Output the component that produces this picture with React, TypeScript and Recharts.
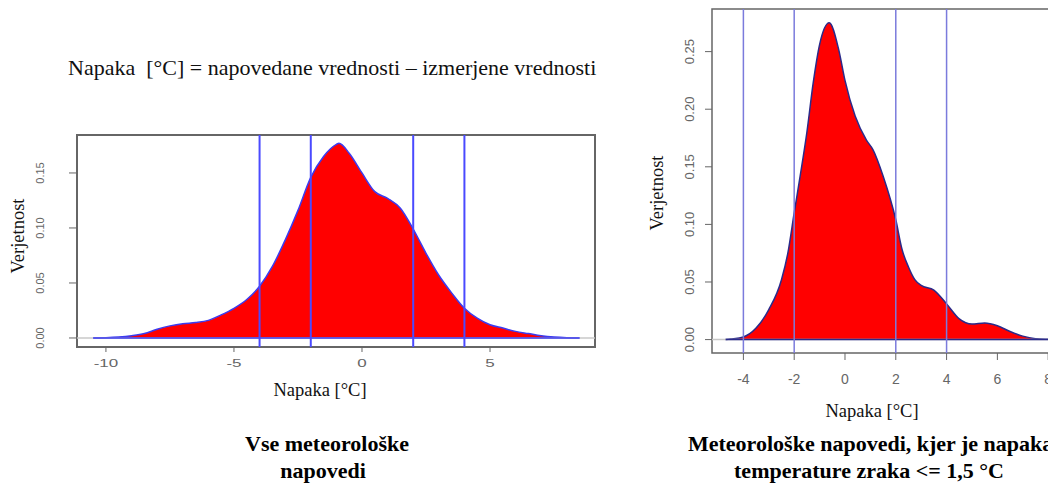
import { AreaChart, Area, XAxis, YAxis, ReferenceLine, ReferenceArea } from "recharts"

// left: all forecasts
const allErrX = [-10.5, -10, -9.5, -9, -8.5, -8, -7.5, -7, -6.5, -6, -5.5, -5, -4.5, -4, -3.5, -3, -2.5, -2, -1.5, -1, -0.9, -0.5, 0, 0.5, 1, 1.5, 2, 2.5, 3, 3.5, 4, 4.5, 5, 5.5, 6, 6.5, 7, 7.5, 8, 8.5]
const allDensity = [0, 0.0002, 0.0008, 0.002, 0.004, 0.008, 0.011, 0.013, 0.014, 0.016, 0.021, 0.027, 0.035, 0.047, 0.065, 0.089, 0.116, 0.146, 0.165, 0.176, 0.177, 0.168, 0.15, 0.133, 0.127, 0.118, 0.099, 0.077, 0.057, 0.041, 0.027, 0.018, 0.012, 0.009, 0.006, 0.004, 0.002, 0.0008, 0.0002, 0]

// right: forecasts with air temperature error <= 1.5 °C
const smallErrX = [-4.7, -4.5, -4, -3.5, -3, -2.5, -2.25, -2, -1.75, -1.5, -1.25, -1, -0.62, -0.25, 0, 0.4, 0.85, 1.1, 1.5, 2, 2.25, 2.5, 2.75, 3, 3.5, 4, 4.5, 5, 5.5, 6, 6.5, 7, 7.5, 8, 8.3]
const smallDensity = [0, 0.0005, 0.0023, 0.01, 0.026, 0.052, 0.075, 0.11, 0.144, 0.18, 0.223, 0.256, 0.275, 0.252, 0.225, 0.194, 0.173, 0.165, 0.142, 0.104, 0.078, 0.063, 0.052, 0.047, 0.043, 0.031, 0.018, 0.0135, 0.0144, 0.012, 0.007, 0.003, 0.0008, 0.0002, 0]

const cutLines = [-4, -2, 2, 4]
const leftXTicks = [-10, -5, 0, 5]
const leftYTicks = [0, 0.05, 0.1, 0.15]
const rightXTicks = [-4, -2, 0, 2, 4, 6, 8]
const rightYTicks = [0, 0.05, 0.1, 0.15, 0.2, 0.25]

const SANS = "'Liberation Sans', Arial, sans-serif"
const SERIF = "'Liberation Serif', 'Times New Roman', serif"

const allData = allErrX.map((x, i) => ({ x, d: allDensity[i] }))
const smallData = smallErrX.map((x, i) => ({ x, d: smallDensity[i] }))

const LeftXTick = ({ x, y, payload }: any) => (
    <g transform={`translate(${x},${y + 15})`}>
        <text textAnchor="middle" transform="scale(1.7,1)" fill="#666" fontSize={10} fontFamily={SANS}>
            {payload.value}
        </text>
    </g>
)

const LeftYTick = ({ x, y, payload }: any) => (
    <text x={x - 25} y={y} transform={`rotate(-90 ${x - 25} ${y})`} textAnchor="middle" fill="#666" fontSize={11} fontFamily={SANS}>
        {Number(payload.value).toFixed(2)}
    </text>
)

const RightXTick = ({ x, y, payload }: any) => (
    <text x={x} y={y + 24} textAnchor="middle" fill="#666" fontSize={14} fontFamily={SANS}>
        {payload.value}
    </text>
)

const RightYTick = ({ x, y, payload }: any) => (
    <text x={x - 11} y={y} transform={`rotate(-90 ${x - 11} ${y})`} textAnchor="middle" fill="#666" fontSize={13} fontFamily={SANS}>
        {Number(payload.value).toFixed(2)}
    </text>
)

export default function App() {
    const lx: [number, number] = [-11.13, 9.1]
    const ly: [number, number] = [-0.0082, 0.1845]
    const rx: [number, number] = [-5.236, 8.82]
    const ry: [number, number] = [-0.01165, 0.287]

    return (
        <div style={{ position: "fixed", left: 0, top: 0, width: 1048, height: 484, overflow: "hidden", background: "#fff" }}>
            <div style={{ position: "absolute", left: 0, top: 0 }}>
                <AreaChart width={620} height={400} data={allData} margin={{ top: 135, right: 25, bottom: 0, left: 0 }}>
                    <XAxis dataKey="x" type="number" domain={lx} allowDataOverflow ticks={leftXTicks}
                        axisLine={false} tickSize={5} tickMargin={0} height={53}
                        tickLine={{ stroke: "#666" }} tick={<LeftXTick />} />
                    <YAxis type="number" domain={ly} allowDataOverflow ticks={leftYTicks}
                        axisLine={false} tickSize={8} tickMargin={0} width={77}
                        tickLine={{ stroke: "#666" }} tick={<LeftYTick />} />
                    <ReferenceLine y={0} stroke="#c8c8c8" strokeWidth={1.5} />
                    <Area dataKey="d" type="monotone" baseValue={0} fill="#ff0000" fillOpacity={1}
                        stroke="#3b3bf0" strokeWidth={1.5} dot={false} activeDot={false} isAnimationActive={false} />
                    <ReferenceLine segment={[{ x: allErrX[0], y: 0 }, { x: allErrX[allErrX.length - 1], y: 0 }]}
                        stroke="#3b3bf0" strokeWidth={1.5} />
                    {cutLines.map((c) => (
                        <ReferenceLine key={c} x={c} stroke="#4a4aff" strokeWidth={2} />
                    ))}
                    <ReferenceArea x1={lx[0]} x2={lx[1]} y1={ly[0]} y2={ly[1]} fill="none"
                        stroke="#666" strokeWidth={2} ifOverflow="visible" />
                </AreaChart>
            </div>

            <div style={{ position: "absolute", left: 640, top: 0 }}>
                <AreaChart width={430} height={400} data={smallData} margin={{ top: 9, right: 1, bottom: 0, left: 0 }}>
                    <XAxis dataKey="x" type="number" domain={rx} allowDataOverflow ticks={rightXTicks}
                        axisLine={false} tickSize={7} tickMargin={0} height={47}
                        tickLine={{ stroke: "#666" }} tick={<RightXTick />} />
                    <YAxis type="number" domain={ry} allowDataOverflow ticks={rightYTicks}
                        axisLine={false} tickSize={7} tickMargin={0} width={72}
                        tickLine={{ stroke: "#666" }} tick={<RightYTick />} />
                    <ReferenceLine y={0} stroke="#c8c8c8" strokeWidth={1.5} />
                    <Area dataKey="d" type="monotone" baseValue={0} fill="#ff0000" fillOpacity={1}
                        stroke="#2a2a8a" strokeWidth={1.5} dot={false} activeDot={false} isAnimationActive={false} />
                    <ReferenceLine segment={[{ x: smallErrX[0], y: 0 }, { x: smallErrX[smallErrX.length - 1], y: 0 }]}
                        stroke="#2a2a8a" strokeWidth={1.5} />
                    {cutLines.map((c) => (
                        <ReferenceLine key={c} x={c} stroke="#7b7bdc" strokeWidth={1.5} />
                    ))}
                    <ReferenceArea x1={rx[0]} x2={rx[1]} y1={ry[0]} y2={ry[1]} fill="none"
                        stroke="#666" strokeWidth={1.5} ifOverflow="visible" />
                </AreaChart>
            </div>

            <svg width={1048} height={484} style={{ position: "absolute", left: 0, top: 0, pointerEvents: "none" }}>
                <text x={68} y={75} fontSize={22} fontFamily={SERIF} fill="#111" style={{ whiteSpace: "pre" }}>
                    {"Napaka  [°C] = napovedane vrednosti – izmerjene vrednosti"}
                </text>

                <text x={24} y={236} transform="rotate(-90 24 236)" textAnchor="middle" fontSize={18.5} fontFamily={SERIF} fill="#111">Verjetnost</text>
                <text x={320} y={396} textAnchor="middle" fontSize={18.5} fontFamily={SERIF} fill="#111">Napaka [°C]</text>

                <text x={663} y={193} transform="rotate(-90 663 193)" textAnchor="middle" fontSize={18.5} fontFamily={SERIF} fill="#111">Verjetnost</text>
                <text x={872} y={417} textAnchor="middle" fontSize={18.5} fontFamily={SERIF} fill="#111">Napaka [°C]</text>

                <text x={327} y={451} textAnchor="middle" fontSize={22} fontWeight="bold" fontFamily={SERIF} fill="#000">Vse meteorološke</text>
                <text x={323} y={478} textAnchor="middle" fontSize={22} fontWeight="bold" fontFamily={SERIF} fill="#000">napovedi</text>

                <text x={688} y={451} fontSize={22} fontWeight="bold" fontFamily={SERIF} fill="#000">Meteorološke napovedi, kjer je napaka</text>
                <text x={869} y={478} textAnchor="middle" fontSize={22} fontWeight="bold" fontFamily={SERIF} fill="#000">temperature zraka &lt;= 1,5 °C</text>
            </svg>
        </div>
    )
}
